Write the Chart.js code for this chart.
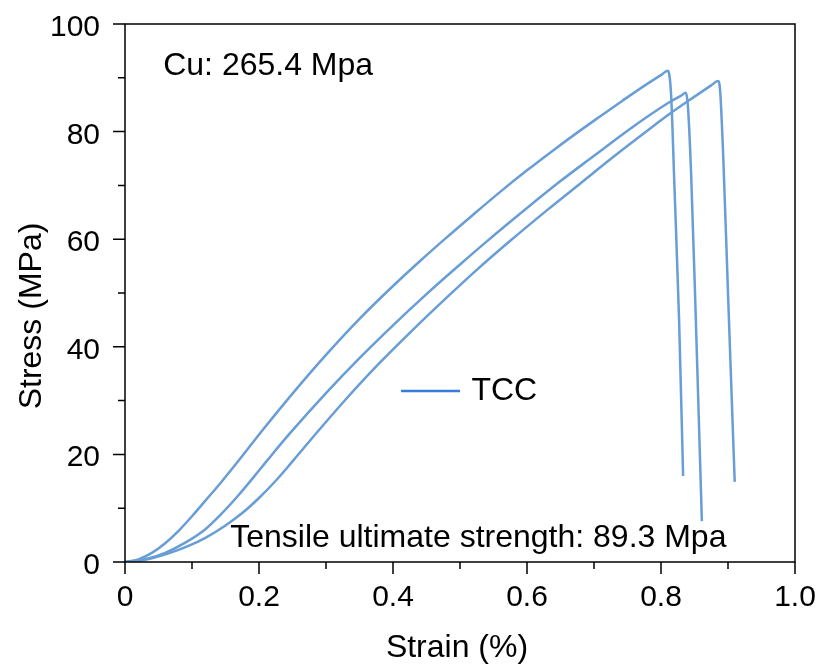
<!DOCTYPE html>
<html>
<head>
<meta charset="utf-8">
<script src="https://cdn.jsdelivr.net/npm/chart.js@4/dist/chart.umd.min.js"></script>
<style>
  html, body { margin: 0; padding: 0; background: #fff; }
  #wrap { width: 820px; height: 664px; }
</style>
</head>
<body>
<div id="wrap"><canvas id="myChart" width="820" height="664"></canvas></div>
<script>
// three TCC samples, strain (%) vs stress (MPa)
const strainA = [0, 0.02, 0.04, 0.06, 0.08, 0.1, 0.12, 0.142, 0.17, 0.204, 0.25, 0.3, 0.35, 0.4, 0.44, 0.478, 0.52, 0.56, 0.6, 0.64, 0.676, 0.71, 0.742, 0.776, 0.8, 0.81, 0.815, 0.82, 0.827, 0.833];
const stressA = [0, 0.5, 1.7, 3.5, 5.8, 8.5, 11.4, 14.6, 18.9, 24.3, 31.3, 38.5, 45.2, 51.3, 55.9, 60.1, 64.6, 68.8, 72.8, 76.6, 79.9, 82.9, 85.7, 88.6, 90.5, 91.3, 87, 70, 45, 16];

const strainB = [0, 0.03, 0.06, 0.09, 0.12, 0.142, 0.17, 0.2, 0.219, 0.246, 0.3, 0.35, 0.4, 0.45, 0.5, 0.54, 0.6, 0.65, 0.7, 0.746, 0.78, 0.813, 0.83, 0.837, 0.84, 0.845, 0.852, 0.861];
const stressB = [0, 0.5, 1.7, 3.6, 6.1, 8.7, 12.5, 17.0, 19.9, 23.9, 31.4, 37.9, 44.0, 49.8, 55.3, 59.6, 65.8, 70.8, 75.5, 79.8, 82.8, 85.5, 86.7, 87.2, 85, 72, 45, 7.6];

const strainC = [0, 0.02, 0.04, 0.065, 0.093, 0.12, 0.15, 0.175, 0.2, 0.225, 0.25, 0.288, 0.33, 0.38, 0.43, 0.478, 0.525, 0.575, 0.63, 0.68, 0.73, 0.779, 0.813, 0.85, 0.875, 0.885, 0.888, 0.893, 0.9, 0.91];
const stressC = [0, 0.2, 0.7, 1.6, 2.9, 4.5, 6.8, 9.1, 11.9, 15.1, 18.7, 24.3, 30.3, 37.0, 43.2, 48.9, 54.3, 59.7, 65.4, 70.4, 75.4, 80.1, 83.3, 86.5, 88.6, 89.4, 88, 75, 50, 14.9];

const xTicks = [0, 0.2, 0.4, 0.6, 0.8, 1.0];
const xTickLabels = ['0', '0.2', '0.4', '0.6', '0.8', '1.0'];
const xMinor = [0.1, 0.3, 0.5, 0.7, 0.9];
const yTicks = [0, 20, 40, 60, 80, 100];
const yTickLabels = ['0', '20', '40', '60', '80', '100'];
const yMinor = [10, 30, 50, 70, 90];

const seriesName = 'TCC';
const xTitle = 'Strain (%)';
const yTitle = 'Stress (MPa)';
const noteCu = 'Cu: 265.4 Mpa';
const noteUts = 'Tensile ultimate strength: 89.3 Mpa';

const lineColor = 'rgb(104,157,214)';
const legendColor = 'rgb(52,125,222)';
const FONT = '"Liberation Sans", Arial, sans-serif';

function toPoints(xs, ys) {
    return xs.map((x, i) => ({ x: x, y: ys[i] }));
}

function makeSet(xs, ys) {
    return {
        label: seriesName,
        data: toPoints(xs, ys),
        showLine: true,
        borderColor: lineColor,
        borderWidth: 2.5,
        pointRadius: 0,
        fill: false,
        cubicInterpolationMode: 'monotone'
    };
}

// frame, ticks, labels, notes and the legend drawn by hand
const extras = {
    id: 'extras',
    afterDraw(chart) {
        const c = chart.ctx;
        const a = chart.chartArea;
        const xs = chart.scales.x, ys = chart.scales.y;
        c.save();
        c.strokeStyle = '#000';
        c.lineWidth = 1.5;
        c.strokeRect(a.left, a.top, a.right - a.left, a.bottom - a.top);

        c.beginPath();
        xTicks.forEach(v => { const p = xs.getPixelForValue(v); c.moveTo(p, a.bottom); c.lineTo(p, a.bottom + 12); });
        xMinor.forEach(v => { const p = xs.getPixelForValue(v); c.moveTo(p, a.bottom); c.lineTo(p, a.bottom + 7); });
        yTicks.forEach(v => { const p = ys.getPixelForValue(v); c.moveTo(a.left, p); c.lineTo(a.left - 12, p); });
        yMinor.forEach(v => { const p = ys.getPixelForValue(v); c.moveTo(a.left, p); c.lineTo(a.left - 7, p); });
        c.stroke();

        c.fillStyle = '#000';
        c.textBaseline = 'alphabetic';

        // tick labels
        c.font = '30px ' + FONT;
        c.textAlign = 'center';
        xTicks.forEach((v, i) => c.fillText(xTickLabels[i], xs.getPixelForValue(v), a.bottom + 44));
        c.textAlign = 'right';
        yTicks.forEach((v, i) => c.fillText(yTickLabels[i], a.left - 25, ys.getPixelForValue(v) + 12));

        // axis titles
        c.font = '32px ' + FONT;
        c.textAlign = 'center';
        c.fillText(xTitle, (a.left + a.right) / 2 - 3, a.bottom + 95);
        c.save();
        c.translate(41, 316);
        c.rotate(-Math.PI / 2);
        c.fillText(yTitle, 0, 0);
        c.restore();

        // notes
        c.textAlign = 'left';
        c.fillText(noteCu, xs.getPixelForValue(0.057), ys.getPixelForValue(90.5));
        c.fillText(noteUts, xs.getPixelForValue(0.157), ys.getPixelForValue(2.8));

        // legend
        const ly = ys.getPixelForValue(31.8);
        c.strokeStyle = legendColor;
        c.lineWidth = 2.5;
        c.beginPath();
        c.moveTo(xs.getPixelForValue(0.412), ly);
        c.lineTo(xs.getPixelForValue(0.5), ly);
        c.stroke();
        c.textBaseline = 'middle';
        c.fillText(seriesName, xs.getPixelForValue(0.517), ly);
        c.restore();
    }
};

const ctx = document.getElementById('myChart').getContext('2d');
const myChart = new Chart(ctx, {
    type: 'scatter',
    data: {
        datasets: [
            makeSet(strainA, stressA),
            makeSet(strainB, stressB),
            makeSet(strainC, stressC)
        ]
    },
    options: {
        responsive: false,
        animation: false,
        layout: { padding: { top: 24, right: 25, left: 0, bottom: 0 } },
        plugins: {
            legend: { display: false },
            tooltip: { enabled: false }
        },
        scales: {
            x: {
                type: 'linear',
                min: 0, max: 1,
                afterFit: s => { s.height = 102; },
                grid: { display: false, drawTicks: false },
                border: { display: false },
                ticks: { display: false }
            },
            y: {
                type: 'linear',
                min: 0, max: 100,
                afterFit: s => { s.width = 125; },
                grid: { display: false, drawTicks: false },
                border: { display: false },
                ticks: { display: false }
            }
        }
    },
    plugins: [extras]
});
</script>
</body>
</html>
